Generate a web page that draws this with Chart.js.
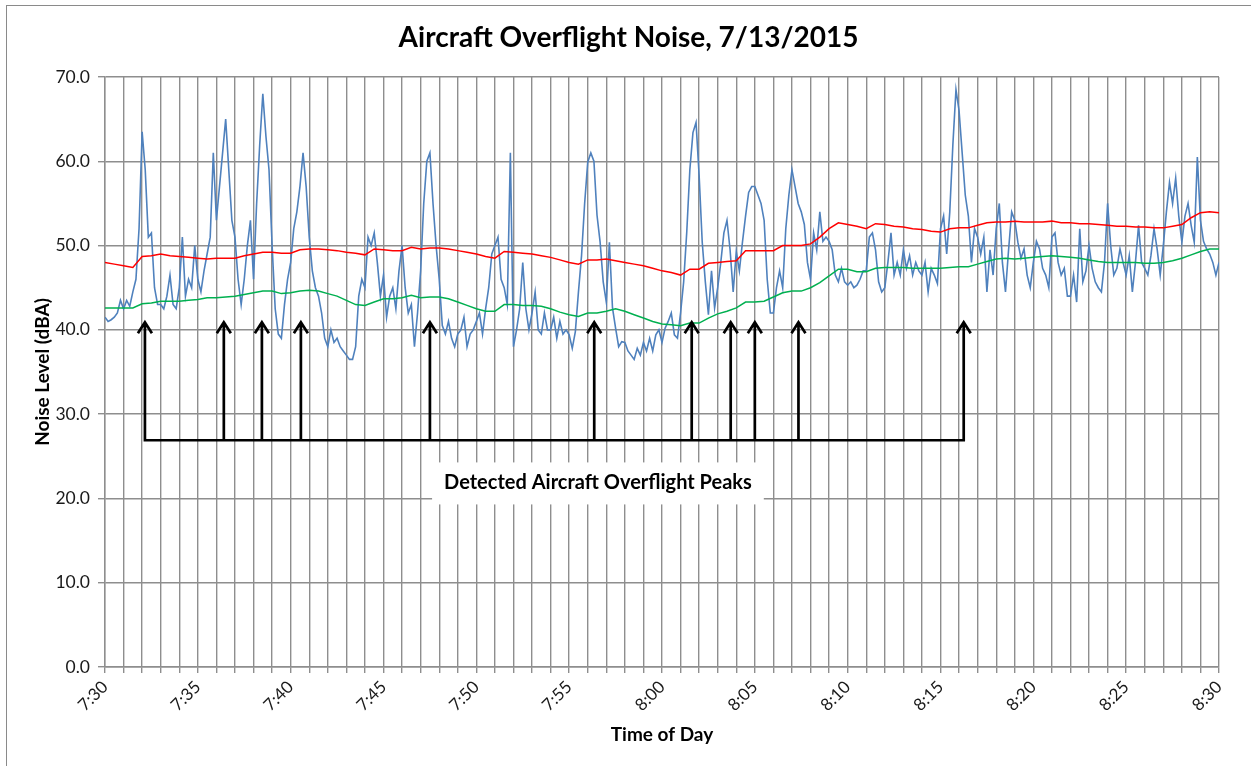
<!DOCTYPE html>
<html>
<head>
<meta charset="utf-8">
<script src="https://cdn.jsdelivr.net/npm/chart.js@4.4.1/dist/chart.umd.min.js"></script>
<style>
  html, body { margin: 0; padding: 0; background: #fff; overflow: hidden; }
  #frame { position: absolute; left: 6px; top: 5px; width: 1262px; height: 780px; border: 1px solid #8a8a8a; }
  #wrap { position: absolute; left: 0; top: 0; width: 1251px; height: 766px; }
</style>
</head>
<body>
<div id="frame"></div>
<div id="wrap"><canvas id="noiseChart" width="1251" height="766"></canvas></div>
<script>
// x axis: minutes after 7:30, labels every 5 minutes
const timeLabels = ['7:30', '7:35', '7:40', '7:45', '7:50', '7:55', '8:00', '8:05', '8:10', '8:15', '8:20', '8:25', '8:30'];

// measured noise level, one sample every 10 s (dBA)
const noiseLevel = [
  41.5, 41.0, 41.2, 41.5, 42.0, 43.5,
  42.5, 43.5, 42.8, 44.5, 46.0, 52.0,
  63.5, 59.0, 51.0, 51.5, 45.0, 43.0,
  43.0, 42.5, 44.0, 46.5, 43.0, 42.5,
  45.0, 51.0, 44.0, 46.0, 45.0, 50.0,
  46.0, 44.5, 47.0, 49.0, 51.0, 61.0,
  53.0, 57.0, 61.0, 65.0, 59.0, 53.0,
  51.0, 46.0, 43.0, 46.0, 50.0, 53.0,
  46.0, 55.0, 62.0, 68.0, 63.0, 59.0,
  50.0, 42.5, 39.5, 39.0, 43.0, 46.0,
  48.0, 52.0, 54.0, 57.0, 61.0, 57.0,
  51.0, 47.0, 45.0, 44.0, 42.0, 39.0,
  38.0, 40.0, 38.5, 39.0, 38.0, 37.5,
  37.0, 36.5, 36.5, 38.0, 44.0, 46.0,
  45.0, 51.0, 50.0, 51.5, 48.0, 44.0,
  46.5, 41.5, 44.0, 45.0, 42.5, 47.0,
  50.0, 45.0, 42.0, 43.0, 38.0, 42.0,
  47.0, 55.0, 60.0, 61.0, 55.0, 50.0,
  46.0, 40.5, 39.5, 41.0, 39.0, 38.0,
  39.5, 40.0, 41.5, 38.0, 39.5, 40.0,
  41.0, 42.0, 39.5, 42.5, 45.0, 49.0,
  50.0, 51.0, 46.0, 45.0, 43.0, 61.0,
  38.0, 40.0, 42.5, 48.0, 42.5, 40.0,
  42.0, 44.5, 40.0, 39.5, 42.0, 40.0,
  40.0, 41.5, 39.0, 41.0, 39.5, 40.0,
  39.4, 37.8, 39.8, 44.5, 48.8, 55.0,
  59.9, 61.0, 60.0, 53.6, 50.4, 45.7,
  43.3, 50.4, 42.6, 40.2, 38.0, 38.6,
  38.5, 37.5, 37.0, 36.5, 37.8, 37.0,
  38.5, 37.5, 39.0, 37.5, 39.4, 40.0,
  38.5, 40.2, 41.0, 42.0, 39.4, 39.0,
  42.0, 45.7, 51.6, 59.0, 63.4, 64.6,
  58.3, 50.4, 45.7, 41.8, 47.0, 42.6,
  45.0, 48.0, 51.5, 53.0, 49.5, 44.5,
  49.3, 47.0, 50.4, 53.5, 56.3, 57.0,
  57.0, 56.0, 55.0, 53.0, 46.0, 42.0,
  42.0, 45.0, 47.0, 45.0, 52.0, 56.0,
  59.0, 57.0, 55.0, 54.0, 52.5, 48.0,
  46.0, 51.5, 49.5, 54.0, 50.5, 51.0,
  50.5, 49.5, 46.5, 45.7, 47.3, 45.7,
  45.3, 45.7, 45.0, 45.3, 46.0, 47.0,
  47.0, 51.0, 51.5, 49.5, 45.7, 44.5,
  45.0, 48.0, 51.5, 46.5, 48.0, 46.5,
  49.5, 47.3, 48.8, 46.5, 48.0, 47.0,
  46.5, 48.0, 44.5, 47.3, 46.5, 45.5,
  52.0, 53.5, 49.0, 54.0, 62.0, 68.5,
  66.0, 61.0, 56.0, 53.5, 48.0, 52.0,
  51.0, 49.0, 51.0, 44.5, 49.5, 46.5,
  52.0, 55.0, 48.0, 44.5, 49.5, 54.0,
  53.0, 50.4, 48.5, 49.6, 46.5, 45.0,
  48.0, 50.5, 49.6, 47.3, 46.5, 45.0,
  51.0, 51.5, 48.0, 46.5, 47.3, 44.0,
  44.0, 46.5, 43.3, 52.0, 45.7, 47.0,
  50.0, 47.3, 45.7, 45.0, 44.5, 48.0,
  55.0, 50.0, 46.5, 47.3, 49.6, 48.0,
  46.5, 48.8, 44.5, 48.0, 52.4, 48.0,
  47.3, 46.5, 48.8, 52.0, 49.6, 46.5,
  50.0, 54.0, 57.5, 55.0, 58.0, 53.5,
  50.4, 53.5, 55.0, 52.4, 50.4, 60.5,
  53.0, 50.5, 49.6, 49.0, 48.0, 46.5,
  48.0
];

// upper (red) and lower (green) running levels, one value every 30 s
const upperLevel = [
  48.0, 47.8, 47.6, 47.4, 48.7, 48.8, 49.0, 48.8, 48.7, 48.6,
  48.5, 48.4, 48.5, 48.5, 48.5, 48.8, 49.0, 49.2, 49.2, 49.1,
  49.1, 49.5, 49.6, 49.6, 49.5, 49.4, 49.2, 49.1, 48.9, 49.6,
  49.5, 49.4, 49.4, 49.8, 49.6, 49.7, 49.7, 49.6, 49.4, 49.2,
  49.0, 48.7, 48.5, 49.3, 49.2, 49.1, 49.0, 48.8, 48.6, 48.3,
  48.0, 47.8, 48.3, 48.3, 48.4, 48.2, 48.0, 47.8, 47.6, 47.3,
  47.0, 46.8, 46.5, 47.2, 47.2, 47.9, 48.0, 48.1, 48.2, 49.4,
  49.4, 49.4, 49.4, 50.0, 50.0, 50.0, 50.2, 51.0, 52.0, 52.7,
  52.5, 52.3, 52.0, 52.6, 52.5, 52.3, 52.2, 52.0, 51.9, 51.7,
  51.6, 52.0, 52.1, 52.1, 52.4, 52.7, 52.8, 52.8, 52.9, 52.8,
  52.8, 52.8, 52.9, 52.7, 52.7, 52.6, 52.6, 52.5, 52.4, 52.3,
  52.3, 52.2, 52.2, 52.1, 52.1, 52.3, 52.5, 53.3, 53.9, 54.0,
  53.9
];
const lowerLevel = [
  42.6, 42.6, 42.6, 42.6, 43.1, 43.2, 43.4, 43.4, 43.4, 43.5,
  43.6, 43.8, 43.8, 43.9, 44.0, 44.2, 44.4, 44.6, 44.6, 44.3,
  44.4, 44.6, 44.7, 44.6, 44.3, 44.0, 43.5, 43.0, 42.9, 43.3,
  43.7, 43.7, 43.8, 44.1, 43.8, 43.9, 43.9, 43.7, 43.3, 42.9,
  42.5, 42.2, 42.2, 43.0, 43.0, 42.9, 42.9, 42.8, 42.5, 42.1,
  41.8, 41.6, 42.0, 42.0, 42.2, 42.5, 42.2, 41.8, 41.4, 41.0,
  40.7, 40.6, 40.5, 40.8, 40.8, 41.4, 41.9, 42.2, 42.6, 43.3,
  43.3, 43.4, 43.9, 44.4, 44.6, 44.6, 45.0, 45.6, 46.4, 47.2,
  47.2, 46.9, 46.9, 47.3, 47.4, 47.4, 47.4, 47.3, 47.3, 47.3,
  47.3, 47.4, 47.5, 47.5, 47.8, 48.1, 48.4, 48.5, 48.4, 48.5,
  48.6, 48.7, 48.8, 48.7, 48.6, 48.5, 48.3, 48.1, 48.0, 48.0,
  48.0, 48.0, 47.9, 47.9, 48.0, 48.2, 48.5, 48.9, 49.3, 49.6,
  49.6
];

// detected overflight peaks (minutes after 7:30)
const peakTimes = [2.15, 6.4, 8.45, 10.55, 17.5, 26.35, 31.6, 33.7, 35.0, 37.35, 46.25];
const arrowTipLevel = 40.9;
const bracketLevel = 26.9;
const peakLabel = 'Detected Aircraft Overflight Peaks';
const peakLabelAt = { x: 26.55, y: 21.9 };
const chartTitle = 'Aircraft Overflight Noise, 7/13/2015';

const FONT = 'Lato, "Open Sans", sans-serif';

const toPoints = (vals, step) => vals.map((v, i) => ({ x: i * step, y: v }));

const peakArrows = {
  id: 'peakArrows',
  afterDatasetsDraw(chart) {
    const { ctx, scales: { x, y } } = chart;
    const baseY = y.getPixelForValue(bracketLevel);
    const tipY = y.getPixelForValue(arrowTipLevel);
    ctx.save();
    ctx.strokeStyle = '#000';
    ctx.lineWidth = 2.7;
    ctx.beginPath();
    const first = x.getPixelForValue(peakTimes[0]);
    const last = x.getPixelForValue(peakTimes[peakTimes.length - 1]);
    ctx.moveTo(first, tipY);
    ctx.lineTo(first, baseY);
    ctx.lineTo(last, baseY);
    ctx.lineTo(last, tipY);
    peakTimes.forEach(t => {
      const px = x.getPixelForValue(t);
      ctx.moveTo(px, baseY);
      ctx.lineTo(px, tipY + 1);
      ctx.moveTo(px - 7, tipY + 11);
      ctx.lineTo(px, tipY);
      ctx.lineTo(px + 7, tipY + 11);
    });
    ctx.stroke();

    // label box
    ctx.font = 'bold 20px ' + FONT;
    const cx = x.getPixelForValue(peakLabelAt.x);
    const cy = y.getPixelForValue(peakLabelAt.y);
    const w = ctx.measureText(peakLabel).width + 24;
    ctx.fillStyle = '#fff';
    ctx.fillRect(cx - w / 2, cy - 20, w, 42);
    ctx.fillStyle = '#000';
    ctx.textAlign = 'center';
    ctx.textBaseline = 'middle';
    ctx.fillText(peakLabel, cx, cy);

    // chart title, centred on the whole canvas
    ctx.font = 'bold 28px ' + FONT;
    ctx.fillText(chartTitle, chart.width / 2 + 3, 38);
    ctx.restore();
  }
};

new Chart(document.getElementById('noiseChart').getContext('2d'), {
  type: 'line',
  data: {
    datasets: [
      { data: toPoints(upperLevel, 0.5), borderColor: '#ff0000', borderWidth: 1.5 },
      { data: toPoints(lowerLevel, 0.5), borderColor: '#00b050', borderWidth: 1.5 },
      { data: toPoints(noiseLevel, 1 / 6), borderColor: '#4f81bd', borderWidth: 1.6 }
    ]
  },
  options: {
    responsive: false,
    animation: false,
    layout: { padding: { left: 0, right: 32, top: 77, bottom: 0 } },
    elements: { point: { radius: 0 }, line: { tension: 0 } },
    plugins: {
      legend: { display: false },
      tooltip: { enabled: false },
      title: { display: false }
    },
    scales: {
      x: {
        type: 'linear',
        min: 0,
        max: 60,
        afterFit: s => { s.height = 99; },
        grid: { color: '#8e8e8e', lineWidth: 1.4, tickLength: 6 },
        border: { color: '#8e8e8e', width: 1.4 },
        ticks: {
          stepSize: 1,
          autoSkip: false,
          minRotation: 45,
          maxRotation: 45,
          padding: 4,
          color: '#1a1a1a',
          font: { family: FONT, size: 17 },
          callback: v => (v % 5 === 0 ? timeLabels[v / 5] : '')
        },
        title: {
          display: true,
          text: 'Time of Day',
          color: '#000',
          font: { family: FONT, size: 19, weight: 'bold' },
          padding: { top: 0, bottom: 20 }
        }
      },
      y: {
        min: 0,
        max: 70,
        afterFit: s => { s.width = 105; },
        grid: { color: '#8e8e8e', lineWidth: 1.4, tickLength: 7 },
        border: { color: '#8e8e8e', width: 1.4 },
        ticks: {
          stepSize: 10,
          padding: 8,
          color: '#1a1a1a',
          font: { family: FONT, size: 17.5 },
          callback: v => v.toFixed(1)
        },
        title: {
          display: true,
          text: 'Noise Level (dBA)',
          color: '#000',
          font: { family: FONT, size: 19, weight: 'bold' },
          padding: { top: 31, bottom: 0 }
        }
      }
    }
  },
  plugins: [peakArrows]
});
</script>
</body>
</html>
